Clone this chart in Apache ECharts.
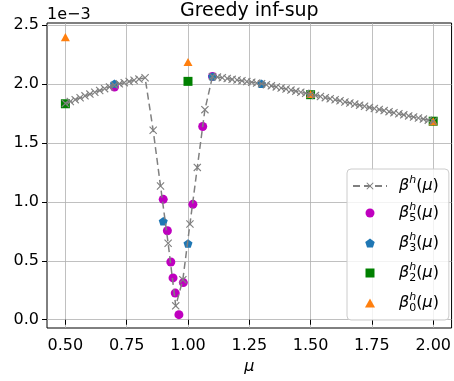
<!DOCTYPE html>
<html>
<head>
<meta charset="utf-8">
<script src="https://cdn.jsdelivr.net/npm/echarts@6/dist/echarts.min.js"></script>
<style>
html, body { margin: 0; padding: 0; background: #fff; }
#chart { width: 454px; height: 381px; }
</style>
</head>
<body>
<div id="chart"></div>
<script>
// values are in units of 1e-3, as the axis shows them
const muH = [
    0.50, 0.52, 0.54, 0.56, 0.58, 0.60, 0.62, 0.64, 0.66, 0.68, 0.70, 0.72, 0.74, 0.76, 0.78, 0.80, 0.825,
    0.858, 0.888, 0.919, 0.950, 0.979, 1.008, 1.038, 1.069,
    1.10, 1.12, 1.14, 1.16, 1.18, 1.20, 1.22, 1.24, 1.26, 1.28, 1.30,
    1.32, 1.34, 1.36, 1.38, 1.40, 1.42, 1.44, 1.46, 1.48, 1.50,
    1.52, 1.54, 1.56, 1.58, 1.60, 1.62, 1.64, 1.66, 1.68, 1.70,
    1.72, 1.74, 1.76, 1.78, 1.80, 1.82, 1.84, 1.86, 1.88, 1.90,
    1.92, 1.94, 1.96, 1.98, 2.00
];
const betaH = [
    1.835, 1.851, 1.867, 1.883, 1.899, 1.914, 1.930, 1.945, 1.960, 1.975, 1.990, 2.001, 2.011, 2.021, 2.031, 2.041, 2.053,
    1.607, 1.134, 0.649, 0.118, 0.340, 0.812, 1.292, 1.782,
    2.064, 2.058, 2.052, 2.046, 2.039, 2.033, 2.027, 2.020, 2.014, 2.008, 2.002,
    1.993, 1.984, 1.975, 1.966, 1.957, 1.948, 1.939, 1.930, 1.921, 1.912,
    1.903, 1.894, 1.884, 1.875, 1.866, 1.857, 1.847, 1.838, 1.829, 1.820,
    1.811, 1.801, 1.792, 1.783, 1.774, 1.765, 1.756, 1.747, 1.738, 1.729,
    1.720, 1.711, 1.702, 1.693, 1.684
];

const mu5 = [0.70, 0.899, 0.916, 0.930, 0.939, 0.948, 0.963, 0.981, 1.020, 1.060, 1.100];
const beta5 = [1.974, 1.021, 0.755, 0.490, 0.355, 0.226, 0.043, 0.315, 0.979, 1.639, 2.064];

const mu3 = [0.70, 0.899, 1.000, 1.100, 1.300];
const beta3 = [2.002, 0.835, 0.646, 2.064, 2.002];

const mu2 = [0.5, 1.0, 1.5, 2.0];
const beta2 = [1.832, 2.022, 1.909, 1.684];

const mu0 = [0.5, 1.0, 1.5, 2.0];
const beta0 = [2.397, 2.186, 1.915, 1.684];

const xTicks = [0.5, 0.75, 1.0, 1.25, 1.5, 1.75, 2.0];
const yTicks = [0.0, 0.5, 1.0, 1.5, 2.0, 2.5];

const FONT = 'DejaVu Sans';
const xMarker = 'path://M0,1 L1,0 L5,4 L9,0 L10,1 L6,5 L10,9 L9,10 L5,6 L1,10 L0,9 L4,5 Z';
const pentagon = 'path://M0,-1 L0.951,-0.309 L0.588,0.809 L-0.588,0.809 L-0.951,-0.309 Z';
const square = 'path://M0,0 L1,0 L1,1 L0,1 Z';
const triangle = 'path://M0.5,0 L1,0.9 L0,0.9 Z';

const pairs = (xs, ys) => xs.map((x, i) => [x, ys[i]]);

const legendText = {
    bh: '{b|β}{sup|h}{p|(}{m|μ}{p|)}',
    b5: '{b|β}{sup0|h}{sub|5}{p|(}{m|μ}{p|)}',
    b3: '{b|β}{sup0|h}{sub|3}{p|(}{m|μ}{p|)}',
    b2: '{b|β}{sup0|h}{sub|2}{p|(}{m|μ}{p|)}',
    b0: '{b|β}{sup0|h}{sub|0}{p|(}{m|μ}{p|)}'
};

const chart = echarts.init(document.getElementById('chart'));

chart.setOption({
    animation: false,
    backgroundColor: '#fff',
    title: {
        text: 'Greedy inf-sup',
        left: 180,
        top: 2,
        padding: 0,
        textStyle: { fontFamily: FONT, fontSize: 19, fontWeight: 'normal', color: '#000' }
    },
    grid: {
        left: 47, top: 23, width: 410, height: 305,
        show: true, borderColor: '#000', borderWidth: 1, backgroundColor: 'transparent'
    },
    xAxis: {
        type: 'value',
        min: 0.425, max: 2.075,
        name: 'μ',
        nameLocation: 'middle',
        nameGap: 27,
        nameTextStyle: { fontFamily: FONT, fontSize: 16, fontStyle: 'italic', color: '#000' },
        axisLine: { show: false },
        axisTick: { show: true, length: 5, customValues: xTicks, lineStyle: { color: '#000' } },
        axisLabel: {
            customValues: xTicks, margin: 10,
            fontFamily: FONT, fontSize: 16, color: '#000',
            formatter: v => v.toFixed(2)
        },
        splitLine: { show: true, lineStyle: { color: '#b0b0b0', width: 0.8 } }
    },
    yAxis: {
        type: 'value',
        min: -0.07, max: 2.517,
        name: '1e\u22123',
        nameLocation: 'end',
        nameGap: 8,
        nameTextStyle: { fontFamily: FONT, fontSize: 16, color: '#000', align: 'left', verticalAlign: 'middle' },
        axisLine: { show: false },
        axisTick: { show: true, length: 5, customValues: yTicks, lineStyle: { color: '#000' } },
        axisLabel: {
            customValues: yTicks, margin: 8,
            fontFamily: FONT, fontSize: 16, color: '#000',
            formatter: v => v.toFixed(1)
        },
        splitLine: { show: true, lineStyle: { color: '#b0b0b0', width: 0.8 } }
    },
    legend: {
        orient: 'vertical',
        left: 347, top: 169,
        itemWidth: 34, itemHeight: 9, itemGap: 8,
        padding: [6, 10, 6, 5],
        backgroundColor: 'rgba(255,255,255,0.8)',
        borderColor: '#cccccc', borderWidth: 1, borderRadius: 4,
        data: ['bh', 'b5', 'b3', 'b2', 'b0'],
        formatter: name => legendText[name],
        textStyle: {
            padding: [0, 0, 0, 7],
            rich: {
                b: { fontFamily: FONT, fontSize: 16, fontStyle: 'italic', color: '#000', lineHeight: 22 },
                m: { fontFamily: FONT, fontSize: 16, fontStyle: 'italic', color: '#000', lineHeight: 22 },
                p: { fontFamily: FONT, fontSize: 16, color: '#000', lineHeight: 22 },
                sup: { fontFamily: FONT, fontSize: 11, fontStyle: 'italic', color: '#000', lineHeight: 14, verticalAlign: 'top' },
                sup0: { fontFamily: FONT, fontSize: 11, fontStyle: 'italic', color: '#000', lineHeight: 14, verticalAlign: 'top', width: 0 },
                sub: { fontFamily: FONT, fontSize: 11, color: '#000', lineHeight: 8, verticalAlign: 'bottom' }
            }
        }
    },
    series: [
        {
            name: 'bh',
            type: 'line',
            data: pairs(muH, betaH),
            symbol: xMarker,
            symbolSize: 8,
            showAllSymbol: true,
            itemStyle: { color: '#808080' },
            lineStyle: { color: '#808080', width: 1.5, type: [7, 4] }
        },
        {
            name: 'b5',
            type: 'scatter',
            data: pairs(mu5, beta5),
            symbol: 'circle',
            symbolKeepAspect: true,
            symbolSize: 9,
            itemStyle: { color: '#bf00bf', opacity: 1 }
        },
        {
            name: 'b3',
            type: 'scatter',
            data: pairs(mu3, beta3),
            symbol: pentagon,
            symbolKeepAspect: true,
            symbolSize: 9,
            itemStyle: { color: '#1f77b4', opacity: 1 }
        },
        {
            name: 'b2',
            type: 'scatter',
            data: pairs(mu2, beta2),
            symbol: square,
            symbolKeepAspect: true,
            symbolSize: 9,
            itemStyle: { color: '#008000', opacity: 1 }
        },
        {
            name: 'b0',
            type: 'scatter',
            data: pairs(mu0, beta0),
            symbol: triangle,
            symbolKeepAspect: true,
            symbolSize: 9,
            itemStyle: { color: '#ff7f0e', opacity: 1 }
        }
    ]
});
</script>
</body>
</html>
